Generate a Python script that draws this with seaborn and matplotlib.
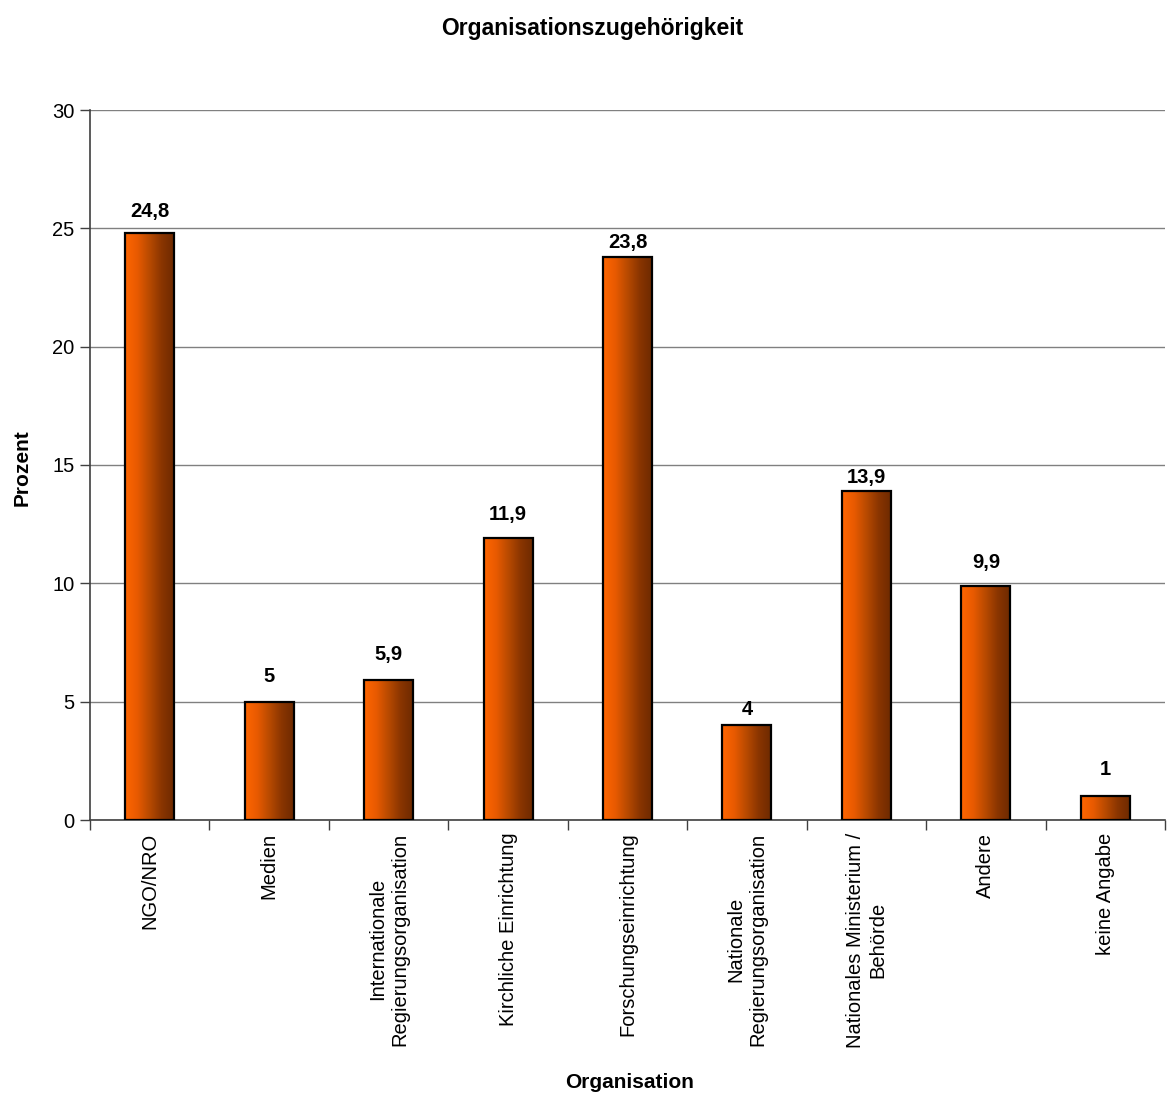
import numpy as np
import pandas as pd
import matplotlib
matplotlib.use("Agg")
import matplotlib.pyplot as plt
from matplotlib.colors import LinearSegmentedColormap
import seaborn as sns

categories = [
    "NGO/NRO",
    "Medien",
    "Internationale\nRegierungsorganisation",
    "Kirchliche Einrichtung",
    "Forschungseinrichtung",
    "Nationale\nRegierungsorganisation",
    "Nationales Ministerium /\nBehörde",
    "Andere",
    "keine Angabe",
]
prozent = [24.8, 5, 5.9, 11.9, 23.8, 4, 13.9, 9.9, 1]
value_labels = ["24,8", "5", "5,9", "11,9", "23,8", "4", "13,9", "9,9", "1"]
y_ticks = [0, 5, 10, 15, 20, 25, 30]

# gap (in pixels) between each bar top and the centre of its value label
label_gap_px = [22, 25, 26, 24, 14, 16, 14, 23, 27]

sns.set_theme(style="white")
plt.rcParams["font.family"] = ["Liberation Sans", "DejaVu Sans"]
plt.rcParams["text.color"] = "black"
plt.rcParams["axes.labelcolor"] = "black"
plt.rcParams["xtick.color"] = "black"
plt.rcParams["ytick.color"] = "black"

df = pd.DataFrame({"Organisation": categories, "Prozent": prozent})

dpi = 100
W, H = 1167, 1097
fig = plt.figure(figsize=(W / dpi, H / dpi), dpi=dpi)
ax = fig.add_axes([90 / W, 1 - 820 / H, (1165 - 90) / W, (820 - 110) / H])

sns.barplot(data=df, x="Organisation", y="Prozent", ax=ax, width=0.41,
            color="#FF6600", edgecolor="black", linewidth=1.6, saturation=1)

ax.set_ylim(0, 30)
ax.set_xlim(-0.5, len(categories) - 0.5)
ax.set_yticks(y_ticks)
ax.set_yticklabels([str(t) for t in y_ticks], fontsize=14.5)

# horizontal gridlines
ax.yaxis.grid(True, color="#808080", linewidth=1.0)
ax.set_axisbelow(True)

# orange-to-brown horizontal gradient fill for each bar
grad = LinearSegmentedColormap.from_list(
    "bar_grad", ["#FF6600", "#E85A00", "#B84A00", "#8A3500", "#6E2A00"])
gradient = np.linspace(0, 1, 256).reshape(1, -1)
for patch in ax.patches:
    x0 = patch.get_x()
    w = patch.get_width()
    h = patch.get_height()
    im = ax.imshow(gradient, cmap=grad, aspect="auto",
                   extent=(x0, x0 + w, 0, h), zorder=patch.get_zorder() - 0.01,
                   interpolation="bilinear")
    im.set_clip_path(patch)
    patch.set_facecolor("none")
    patch.set_zorder(3)
ax.set_xlim(-0.5, len(categories) - 0.5)
ax.set_ylim(0, 30)

# value labels above bars
for patch, lab, gap in zip(ax.patches, value_labels, label_gap_px):
    ax.annotate(lab, (patch.get_x() + patch.get_width() / 2, patch.get_height()),
                xytext=(0, gap * 72 / dpi), textcoords="offset points",
                ha="center", va="center", fontsize=14.5, fontweight="bold",
                color="black")

# x tick labels, rotated, with tick marks at category boundaries
ax.set_xticks(range(len(categories)))
ax.set_xticklabels(categories, rotation=90, fontsize=14.5,
                   ha="center", va="top", multialignment="center")
ax.tick_params(axis="x", which="major", length=0, pad=9, labelcolor="black")
ax.set_xticks(np.arange(-0.5, len(categories), 1.0), minor=True)
ax.tick_params(axis="x", which="minor", length=7, width=1.0, color="#404040",
               direction="out", bottom=True)
ax.tick_params(axis="y", which="major", length=7, width=1.0, color="#404040",
               direction="out", left=True, pad=4, labelcolor="black")

for side in ["top", "right"]:
    ax.spines[side].set_visible(False)
for side in ["left", "bottom"]:
    ax.spines[side].set_color("#404040")
    ax.spines[side].set_linewidth(1.2)

ax.set_xlabel("")
ax.set_ylabel("")
fig.text(22 / W, 1 - 468 / H, "Prozent", rotation=90, ha="center", va="center",
         fontsize=15, fontweight="bold", color="black")
fig.text(630 / W, 1 - 1083 / H, "Organisation", ha="center", va="center",
         fontsize=15, fontweight="bold", color="black")
fig.text(592 / W, 1 - 28 / H, "Organisationszugehörigkeit", ha="center",
         va="center", fontsize=16.5, fontweight="bold", color="black")

fig.savefig("out.png", dpi=dpi, facecolor="white")
